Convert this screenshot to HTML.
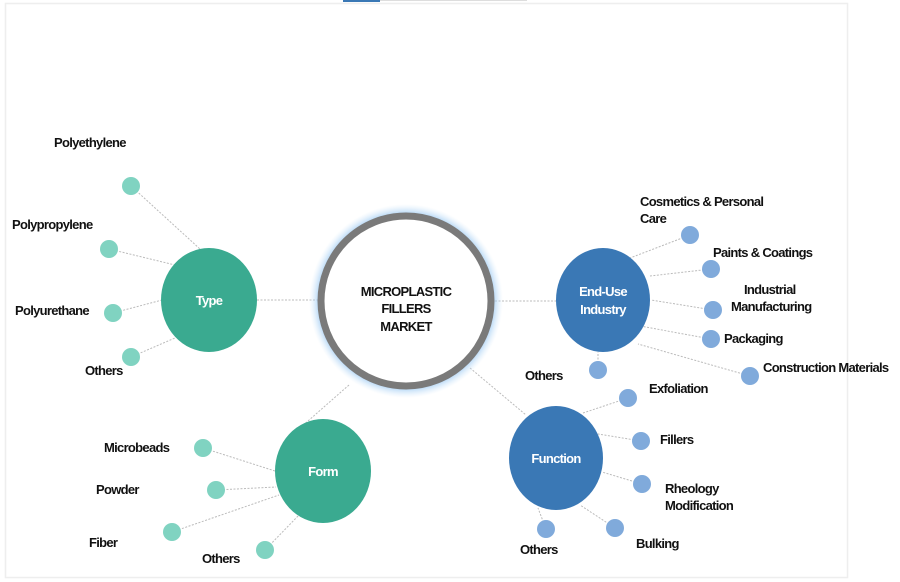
<!DOCTYPE html>
<html><head><meta charset="utf-8"><style>
html,body{margin:0;padding:0;background:#fff;width:900px;height:582px;overflow:hidden}
svg text{font-family:"Liberation Sans",sans-serif;font-weight:bold;font-size:13px;letter-spacing:-0.7px;fill:#111}
</style></head><body>
<svg width="900" height="582" viewBox="0 0 900 582">
<defs>
<radialGradient id="glow" cx="50%" cy="50%" r="50%">
<stop offset="86%" stop-color="#7fb9ee" stop-opacity="1"/>
<stop offset="100%" stop-color="#cfe6fa" stop-opacity="0"/>
</radialGradient>
</defs>
<rect x="343" y="0" width="37" height="2" fill="#3a78b5"/>
<rect x="380" y="0" width="147" height="1" fill="#ddd"/>
<rect x="5.5" y="3.5" width="842" height="574" fill="none" stroke="#eee" stroke-width="1.5"/>
<g stroke="#bbb" stroke-width="1" stroke-dasharray="2,1.5" fill="none">
<line x1="257" y1="300" x2="318" y2="300"/>
<line x1="495" y1="301" x2="556" y2="301"/>
<line x1="349" y1="385" x2="300" y2="428"/>
<line x1="470" y1="368" x2="526" y2="415"/>
<line x1="131" y1="186" x2="200" y2="249"/>
<line x1="109" y1="249" x2="175" y2="265"/>
<line x1="113" y1="313" x2="162" y2="300"/>
<line x1="131" y1="357" x2="175" y2="338"/>
<line x1="690" y1="235" x2="630" y2="258"/>
<line x1="711" y1="269" x2="650" y2="276"/>
<line x1="713" y1="310" x2="651" y2="300"/>
<line x1="711" y1="339" x2="640" y2="326"/>
<line x1="750" y1="376" x2="638" y2="344"/>
<line x1="598" y1="370" x2="598" y2="352"/>
<line x1="628" y1="398" x2="583" y2="413"/>
<line x1="641" y1="441" x2="598" y2="434"/>
<line x1="642" y1="484" x2="602" y2="472"/>
<line x1="615" y1="528" x2="580" y2="505"/>
<line x1="546" y1="529" x2="538" y2="508"/>
<line x1="203" y1="448" x2="275" y2="471"/>
<line x1="216" y1="490" x2="276" y2="487"/>
<line x1="172" y1="532" x2="279" y2="495"/>
<line x1="265" y1="550" x2="299" y2="515"/>
</g>
<circle cx="406" cy="301" r="97" fill="url(#glow)"/>
<circle cx="406" cy="301" r="85" fill="#fff" stroke="#7a7a7a" stroke-width="7"/>
<text x="406" y="296" text-anchor="middle">MICROPLASTIC</text>
<text x="406" y="313" text-anchor="middle">FILLERS</text>
<text x="406" y="331" text-anchor="middle">MARKET</text>
<g fill="#3aaa90">
<ellipse cx="209" cy="300" rx="48" ry="52"/>
<ellipse cx="323" cy="471" rx="48" ry="52"/>
</g>
<g fill="#3a78b5">
<ellipse cx="603" cy="300" rx="47" ry="52"/>
<ellipse cx="556" cy="458" rx="47" ry="52"/>
</g>
<g fill="#80d3c1">
<circle cx="131" cy="186" r="9"/><circle cx="109" cy="249" r="9"/><circle cx="113" cy="313" r="9"/><circle cx="131" cy="357" r="9"/>
<circle cx="203" cy="448" r="9"/><circle cx="216" cy="490" r="9"/><circle cx="172" cy="532" r="9"/><circle cx="265" cy="550" r="9"/>
</g>
<g fill="#80aadb">
<circle cx="690" cy="235" r="9"/><circle cx="711" cy="269" r="9"/><circle cx="713" cy="310" r="9"/><circle cx="711" cy="339" r="9"/><circle cx="750" cy="376" r="9"/><circle cx="598" cy="370" r="9"/>
<circle cx="628" cy="398" r="9"/><circle cx="641" cy="441" r="9"/><circle cx="642" cy="484" r="9"/><circle cx="615" cy="528" r="9"/><circle cx="546" cy="529" r="9"/>
</g>
<text x="209" y="305" text-anchor="middle" style="fill:#fff">Type</text>
<text x="323" y="476" text-anchor="middle" style="fill:#fff">Form</text>
<text x="603" y="296" text-anchor="middle" style="fill:#fff">End-Use</text>
<text x="603" y="314" text-anchor="middle" style="fill:#fff">Industry</text>
<text x="556" y="463" text-anchor="middle" style="fill:#fff">Function</text>
<text x="54" y="147">Polyethylene</text>
<text x="12" y="229">Polypropylene</text>
<text x="15" y="315">Polyurethane</text>
<text x="85" y="375">Others</text>
<text x="104" y="452">Microbeads</text>
<text x="96" y="494">Powder</text>
<text x="89" y="547">Fiber</text>
<text x="202" y="563">Others</text>
<text x="640" y="206">Cosmetics &amp; Personal</text>
<text x="640" y="223">Care</text>
<text x="744" y="294">Industrial</text>
<text x="713" y="257">Paints &amp; Coatings</text>
<text x="731" y="311">Manufacturing</text>
<text x="724" y="343">Packaging</text>
<text x="763" y="372">Construction Materials</text>
<text x="525" y="380">Others</text>
<text x="649" y="393">Exfoliation</text>
<text x="660" y="444">Fillers</text>
<text x="665" y="493">Rheology</text>
<text x="665" y="510">Modification</text>
<text x="636" y="548">Bulking</text>
<text x="520" y="554">Others</text>
</svg>
</body></html>
